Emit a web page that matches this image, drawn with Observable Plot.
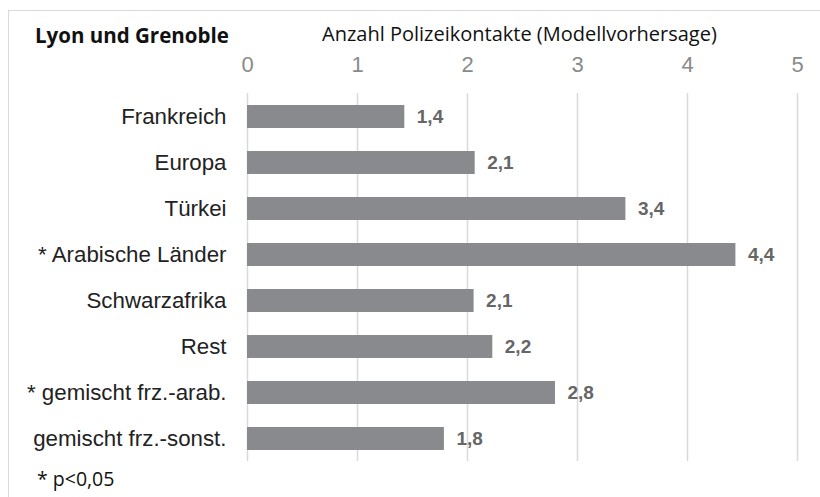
<!DOCTYPE html>
<html>
<head>
<meta charset="utf-8">
<script src="https://cdn.jsdelivr.net/npm/d3@7"></script>
<script src="https://cdn.jsdelivr.net/npm/@observablehq/plot@0.6"></script>
<style>
  html, body { margin: 0; padding: 0; background: #fff; }
  #wrap { position: relative; width: 820px; height: 497px; overflow: hidden; }
  .abs { position: absolute; white-space: nowrap; line-height: normal; }
  #frame { position: absolute; left: 8px; top: 10px; width: 830px; height: 500px; border-left: 1.5px solid #d9d9d9; border-top: 1.5px solid #d9d9d9; }
  #title { left: 35px; top: 21px; font-family: "Open Sans", sans-serif; font-weight: 700; font-size: 20.5px; color: #111; }
  #xlabel { left: 322px; top: 20px; font-family: "Open Sans", sans-serif; font-size: 20px; color: #111; }
  #note { left: 37px; top: 465px; font-family: "Open Sans", sans-serif; font-size: 19.5px; color: #111; }
  #chart svg text { font-family: "Liberation Sans", Arial, sans-serif; }
</style>
</head>
<body>
<div id="wrap">
  <div id="frame"></div>
  <div id="chart" class="abs" style="left:0;top:0"></div>
  <div id="title" class="abs">Lyon und Grenoble</div>
  <div id="xlabel" class="abs">Anzahl Polizeikontakte (Modellvorhersage)</div>
  <div id="note" class="abs">* p&lt;0,05</div>
</div>
<script>
const categories = [
  "Frankreich",
  "Europa",
  "Türkei",
  "* Arabische Länder",
  "Schwarzafrika",
  "Rest",
  "* gemischt frz.-arab.",
  "gemischt frz.-sonst."
];
const values = [1.43, 2.07, 3.44, 4.44, 2.06, 2.23, 2.80, 1.79];
const xTicks = [0, 1, 2, 3, 4, 5];

const data = categories.map((c, i) => ({category: c, value: values[i]}));
const fmt = v => v.toFixed(1).replace(".", ",");

const chart = Plot.plot({
  width: 820,
  height: 497,
  marginLeft: 247,
  marginRight: 23,
  marginTop: 93,
  marginBottom: 36,
  style: {background: "transparent", fontFamily: "Liberation Sans, Arial, sans-serif"},
  x: {domain: [0, 5], label: null},
  y: {domain: categories, paddingInner: 0.5, paddingOuter: 0.25, label: null},
  marks: [
    Plot.ruleX(xTicks, {stroke: "#d9d9d9", strokeWidth: 1.5}),
    Plot.axisX(xTicks, {
      anchor: "top", tickSize: 0, tickPadding: 22, label: null,
      fontSize: 22, fill: "#8a8a8a"
    }),
    Plot.axisY({
      tickSize: 0, tickPadding: 21, label: null,
      fontSize: 22.3, fill: "#222222"
    }),
    Plot.barX(data, {x: "value", y: "category", fill: "#898a8e"}),
    Plot.text(data, {
      x: "value", y: "category", text: d => fmt(d.value),
      textAnchor: "start", dx: 12, fontSize: 19, fontWeight: "bold",
      fill: "#666666"
    })
  ]
});
document.getElementById("chart").appendChild(chart);
</script>
</body>
</html>
